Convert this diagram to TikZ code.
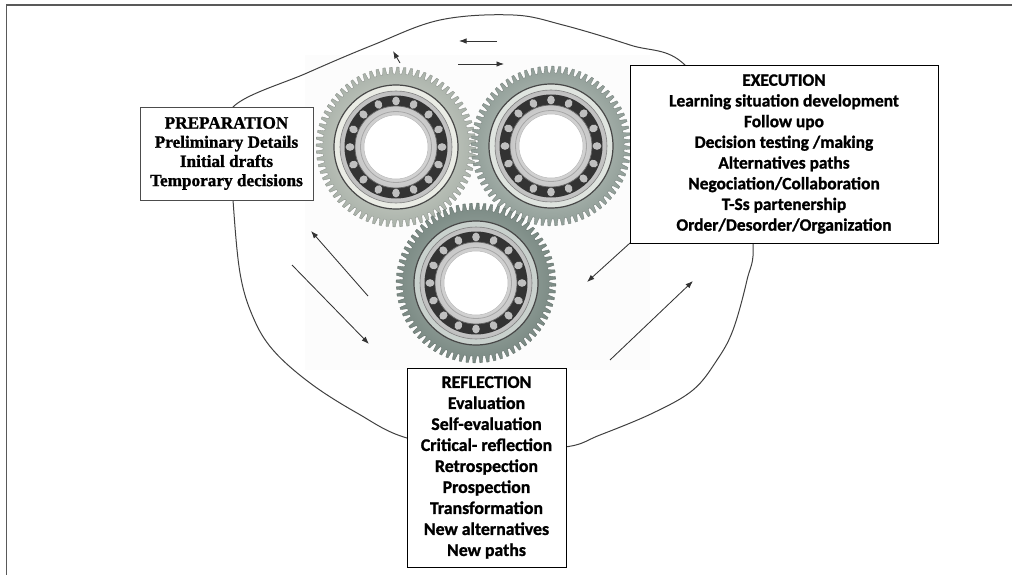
\documentclass[tikz,border=0pt]{standalone}
\usepackage{fontspec}
\setmainfont{Liberation Serif}[BoldFeatures={FakeBold=1.2}]
\newfontfamily\calib{Carlito}[BoldFeatures={FakeBold=1.2}]
\usetikzlibrary{arrows.meta}
\definecolor{gearA}{RGB}{170,178,170}
\definecolor{gearAi}{RGB}{225,228,218}
\definecolor{gearB}{RGB}{145,158,152}
\definecolor{gearBi}{RGB}{210,216,210}
\definecolor{gearC}{RGB}{122,137,131}
\definecolor{gearCi}{RGB}{178,189,183}
\newcommand{\mygear}[4]{%
  \begin{scope}[shift={(#1,#2)}]
    \shade[inner color=#4, outer color=#3, draw=#3!80!black, line width=0.3pt]
      plot[domain=0:72,samples=649,variable=\t] ({5*\t}:{76.5+3.4*max(-1,min(1,3*sin(360*frac(\t))))}) -- cycle;
    \fill[#4!70!white] (0,0) circle (62);
    \draw[black!72, line width=1.2pt] (0,0) circle (62);
    \shade[inner color=gray!12, outer color=gray!50] (0,0) circle (56);
    \draw[black!50, line width=0.6pt] (0,0) circle (56);
    \fill[black!80] (0,0) circle (51.5);
    \foreach \k in {0,...,15} {
      \fill[gray!50, rotate=\k*22.5] (46,0) ellipse (4.4 and 3.8);
    }
    \shade[inner color=white, outer color=gray!45] (0,0) circle (41);
    \draw[black!60, line width=0.7pt] (0,0) circle (41);
    \draw[gray!70, line width=0.8pt] (0,0) circle (35.5);
    \fill[white] (0,0) circle (32);
    \draw[gray!55, line width=0.5pt] (0,0) circle (32);
  \end{scope}}
\tikzset{
  box/.style={draw=black, line width=0.9pt, fill=white, inner sep=0pt},
  arr/.style={draw=black!80, line width=0.85pt, -{Latex[length=7.5pt,width=5.5pt]}},
  loopline/.style={draw=black!75, line width=1pt},
  frameline/.style={draw=black!65, line width=1.6pt},
}
\begin{document}
\begin{tikzpicture}[x=1pt,y=-1pt]
\useasboundingbox (0,0) rectangle (1012,575);
% outer frame (top and left edges)
\coordinate (fTL) at (6.5,5);
\coordinate (fTR) at (1012,5);
\coordinate (fBL) at (6.5,575);
\draw[frameline] (fTR) -- (fTL) -- (fBL);
% faint photo background
\fill[black!1] (305,55) rectangle (650,370);
% closed loop
\draw[loopline] plot[smooth cycle, tension=0.6] coordinates {
  (233,107) (307,73) (373,45) (440,20) (513,15) (563,25) (630,45) (685,65)
  (740,150) (753,243) (747,280) (733,330) (717,360) (693,390) (653,413) (600,435) (565,447)
  (486,450) (407,438) (357,413) (310,383) (273,350) (253,317) (240,273) (233,200) (231,150)};
% gears
\mygear{396}{147}{gearA}{gearAi}
\mygear{551}{146}{gearB}{gearBi}
\mygear{476}{283}{gearC}{gearCi}
% arrows
\coordinate (a1s) at (400,63);  \coordinate (a1e) at (393,51);
\coordinate (a2s) at (497,41);  \coordinate (a2e) at (459,41);
\coordinate (a3s) at (458,64);  \coordinate (a3e) at (504,64);
\coordinate (a4s) at (368,296); \coordinate (a4e) at (311,231);
\coordinate (a5s) at (292,265); \coordinate (a5e) at (369,344);
\coordinate (a6s) at (630,243); \coordinate (a6e) at (587,282);
\coordinate (a7s) at (610,360); \coordinate (a7e) at (693,281);
\foreach \n in {1,...,7} { \draw[arr] (a\n s) -- (a\n e); }
% boxes
\node[box, draw=black!70, minimum width=173pt, minimum height=93pt, align=center,
      font=\fontsize{17.2}{19.2}\selectfont\bfseries] (prep) at (226.5,153.5)
  {PREPARATION\\Preliminary Details\\Initial drafts\\Temporary decisions};
\node[box, minimum width=308pt, minimum height=178pt, align=center,
      font=\calib\fontsize{17.4}{20.7}\selectfont\bfseries] (exec) at (784,154)
  {EXECUTION\\Learning situation development\\Follow upo\\Decision testing /making\\Alternatives paths\\Negociation/Collaboration\\T-Ss partenership\\Order/Desorder/Organization};
\node[box, minimum width=159pt, minimum height=199pt] (refl) at (486.5,467.5) {};
\node[align=center, inner sep=0pt, font=\calib\fontsize{17.8}{21}\selectfont\bfseries] (refltext) at (refl.center)
  {REFLECTION\\Evaluation\\Self-evaluation\\Critical- reflection\\Retrospection\\Prospection\\Transformation\\New  alternatives\\New paths};
\end{tikzpicture}
\end{document}
